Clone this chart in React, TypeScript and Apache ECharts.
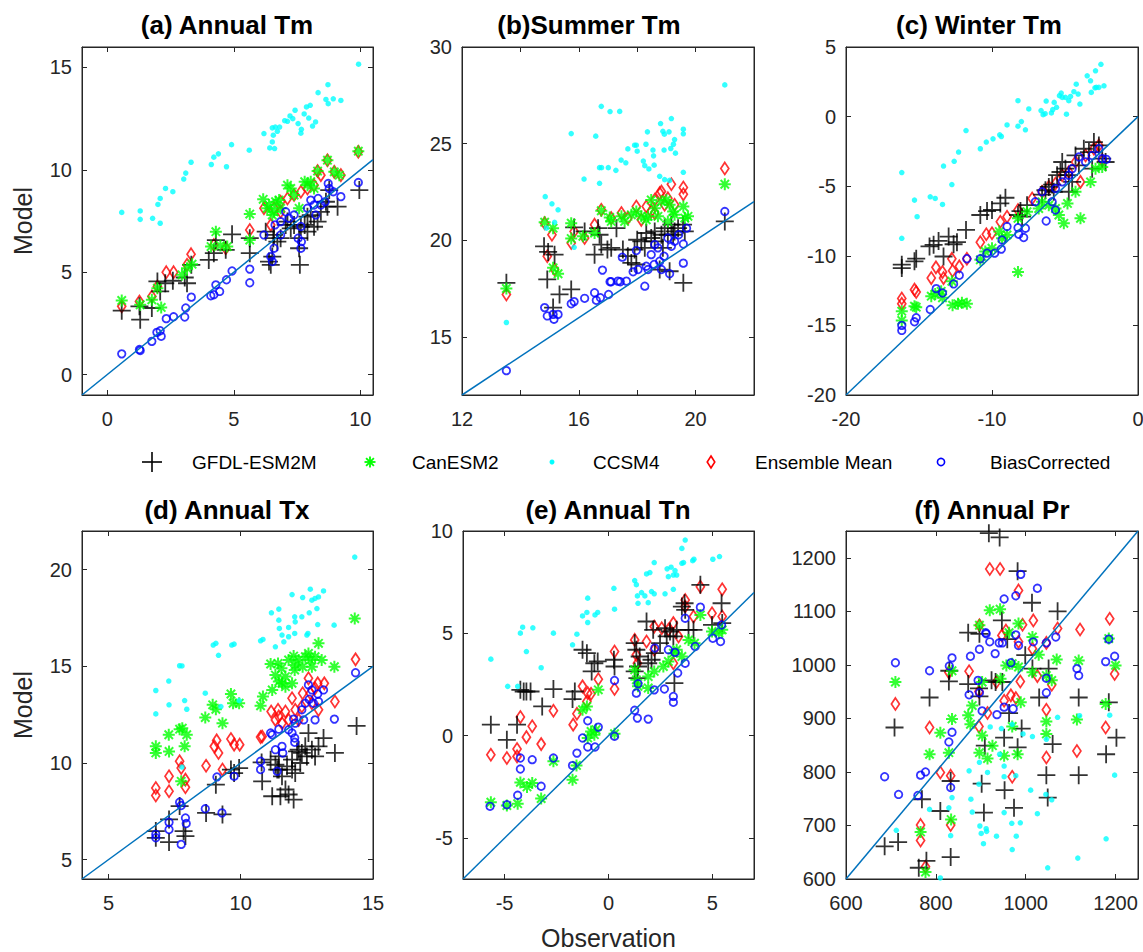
import React, { useEffect, useRef } from 'react';
import * as echarts from 'echarts';

const FONT = 'Arial, "Liberation Sans", Helvetica, sans-serif';
const AXIS_COLOR = '#262626';

const SERIES_NAMES = ['GFDL-ESM2M', 'CanESM2', 'CCSM4', 'Ensemble Mean', 'BiasCorrected'];
const PANEL_TITLES = ['(a) Annual Tm', '(b)Summer Tm', '(c) Winter Tm', '(d) Annual Tx', '(e) Annual Tn', '(f) Annual Pr'];

const X_RANGES = [[-1, 10.5], [12, 22], [-20, 0], [4, 15], [-7, 7], [600, 1250]];
const Y_RANGES = [[-1, 16], [12, 30], [-20, 5], [4, 22], [-7, 10], [600, 1250]];
const X_TICKS = [[0, 5, 10], [12, 14, 16, 18, 20, 22], [-20, -10, 0], [5, 10, 15], [-5, 0, 5], [600, 800, 1000, 1200]];
const X_LABELS = [[0, 5, 10], [12, 16, 20], [-20, -10, 0], [5, 10, 15], [-5, 0, 5], [600, 800, 1000, 1200]];
const Y_TICKS = [[0, 5, 10, 15], [15, 20, 25, 30], [-20, -15, -10, -5, 0, 5], [5, 10, 15, 20], [-5, 0, 5, 10], [600, 700, 800, 900, 1000, 1100, 1200]];

// ---------- (a) Annual Tm ----------
const A_GFDL = [[0.57,3.12],[1.27,3.33],[1.30,2.68],[1.76,3.25],[1.98,4.55],[2.09,4.06],[2.29,4.46],[2.59,4.58],[3.06,4.74],[3.15,4.46],[3.32,5.36],[4.01,5.60],[4.21,5.93],[4.29,6.57],[4.68,6.09],[4.93,6.85],[5.63,6.66],[5.63,5.93],[6.26,6.98],[6.39,5.52],[6.46,5.36],[6.52,5.76],[6.56,6.66],[6.59,6.82],[6.72,6.49],[6.85,6.66],[7.05,7.31],[7.12,7.47],[7.25,7.14],[7.38,7.31],[7.58,6.17],[7.61,5.36],[7.65,7.22],[7.80,7.31],[7.91,7.71],[8.04,7.79],[8.17,7.22],[8.31,7.47],[8.44,7.95],[8.64,8.44],[8.70,8.20],[8.77,9.01],[9.10,8.20],[9.96,9.01],[7.58,6.66],[7.91,6.98]];
const A_CAN = [[0.57,3.62],[1.30,3.41],[1.76,3.65],[2.13,3.28],[1.98,4.22],[2.95,4.87],[3.15,5.19],[3.35,5.39],[4.10,6.25],[4.29,6.98],[4.47,6.30],[4.74,6.25],[5.63,7.84],[5.63,6.57],[6.16,8.56],[6.39,8.28],[6.52,7.79],[6.65,8.44],[6.79,8.52],[6.85,8.12],[7.12,9.25],[7.25,9.09],[7.38,8.77],[7.58,8.12],[7.80,9.42],[7.91,9.25],[8.04,9.42],[8.17,9.09],[8.31,9.94],[8.70,10.47],[8.97,9.90],[9.17,9.74],[9.92,10.91],[6.59,7.95],[6.32,8.12]];
const A_CCSM = [[0.57,7.92],[1.30,7.99],[1.30,7.58],[1.79,7.63],[2.09,7.39],[2.00,8.31],[2.09,8.60],[2.30,9.09],[2.59,8.93],[3.02,9.55],[3.10,9.84],[3.31,10.37],[4.11,10.26],[4.21,10.62],[4.39,10.78],[4.71,10.15],[4.91,11.23],[5.61,10.96],[6.19,11.77],[6.42,11.07],[6.61,11.04],[6.52,11.36],[6.56,11.69],[6.52,12.05],[6.64,12.09],[6.81,12.09],[6.72,11.88],[7.01,12.40],[7.12,12.37],[7.22,12.63],[7.33,12.50],[7.42,12.91],[7.54,12.26],[7.65,11.79],[7.67,11.98],[7.78,12.73],[7.87,13.07],[7.96,12.53],[8.02,13.15],[8.11,12.14],[8.23,12.34],[8.33,13.77],[8.64,13.44],[8.72,14.16],[8.73,13.23],[8.93,13.47],[9.23,13.39],[9.93,15.16]];
const A_ENS = [[0.57,3.33],[1.27,3.57],[1.76,3.81],[1.98,4.30],[2.33,5.00],[2.62,5.00],[3.15,5.36],[3.31,5.88],[4.21,6.33],[4.68,6.17],[5.63,7.06],[6.19,8.12],[6.46,7.31],[6.85,8.44],[7.12,8.60],[7.38,8.77],[7.65,8.93],[7.91,9.09],[8.17,9.25],[8.44,9.74],[8.70,10.47],[8.97,9.90],[9.23,9.74],[9.92,10.88],[8.31,9.94],[6.85,7.95],[6.59,8.12]];
const A_BIAS = [[0.57,1.01],[1.27,1.22],[1.30,1.17],[1.76,1.62],[1.96,2.06],[2.09,2.14],[2.13,1.87],[2.33,2.73],[2.62,2.82],[3.06,2.81],[3.10,3.25],[3.32,3.78],[4.09,3.85],[4.21,3.90],[4.29,4.38],[4.44,4.06],[4.71,4.63],[4.93,5.06],[5.63,5.15],[5.63,4.48],[6.19,6.82],[6.46,5.76],[6.52,5.52],[6.59,6.17],[6.63,7.31],[6.85,6.82],[7.05,7.95],[7.18,7.63],[7.38,7.79],[7.54,6.66],[7.67,6.49],[7.65,6.17],[7.91,8.12],[8.04,8.52],[8.17,8.28],[8.24,7.79],[8.33,8.60],[8.44,8.28],[8.61,8.44],[8.73,9.33],[8.77,9.09],[8.93,8.93],[9.23,8.69],[9.92,9.38],[7.65,7.23],[6.85,7.47]];

// ---------- (b) Summer Tm ----------
const B_GFDL = [[13.52,17.80],[14.81,19.69],[14.95,19.40],[15.17,19.26],[14.92,17.98],[15.12,16.52],[15.34,17.20],[15.74,17.46],[15.84,20.67],[16.20,20.46],[16.54,19.26],[16.66,20.63],[16.71,20.29],[16.77,19.78],[16.98,19.52],[17.11,19.61],[17.29,20.63],[17.51,19.52],[17.68,19.18],[17.80,18.83],[17.97,18.75],[18.00,20.03],[18.14,19.95],[18.26,19.61],[18.31,20.38],[18.48,20.12],[18.60,20.46],[18.77,18.49],[18.83,20.29],[18.88,19.61],[18.94,20.63],[19.05,20.29],[19.11,18.40],[19.17,20.81],[19.23,20.29],[19.28,20.46],[19.40,20.63],[19.57,20.81],[19.63,20.46],[19.58,17.80],[21.00,20.98],[17.91,19.52],[18.60,19.95]];
const B_CAN = [[13.52,17.51],[14.83,20.94],[15.12,20.63],[15.12,18.58],[15.29,18.27],[15.74,20.89],[15.74,20.09],[16.14,20.21],[16.54,20.38],[16.77,21.53],[17.06,21.18],[17.11,20.98],[17.46,21.24],[17.57,20.98],[17.80,21.32],[17.97,21.49],[18.14,21.24],[18.31,21.06],[18.48,22.09],[18.60,21.66],[18.71,21.24],[18.83,22.01],[19.00,22.09],[19.11,21.84],[19.23,21.49],[19.28,21.32],[19.58,21.75],[19.63,21.15],[21.00,22.90],[19.05,20.98],[18.37,21.24],[19.74,21.24]];
const B_CCSM = [[13.52,15.75],[14.85,22.26],[15.08,21.89],[15.29,21.58],[15.17,20.93],[14.89,20.63],[15.74,25.52],[15.84,19.64],[16.18,23.17],[16.58,25.39],[16.71,22.95],[16.77,26.93],[16.71,23.76],[16.78,23.76],[17.01,23.76],[17.07,26.66],[17.27,23.62],[17.40,26.67],[17.45,24.15],[17.61,24.01],[17.68,24.73],[17.91,24.92],[17.97,24.92],[18.00,24.61],[18.21,24.10],[18.26,23.86],[18.30,24.97],[18.35,25.61],[18.40,23.69],[18.54,24.67],[18.56,24.37],[18.58,23.89],[18.77,23.31],[18.80,26.04],[18.88,25.64],[18.93,25.49],[18.94,23.14],[18.92,24.67],[19.09,25.61],[19.15,24.75],[19.17,26.30],[19.24,24.97],[19.28,25.21],[19.31,24.51],[19.11,23.10],[19.58,25.75],[19.58,25.51],[19.58,23.52],[21.00,28.04]];
const B_ENS = [[13.52,17.20],[14.83,20.89],[15.08,20.29],[14.92,19.18],[15.17,18.49],[15.74,19.86],[15.84,20.46],[16.20,20.12],[16.77,21.58],[17.11,21.15],[17.46,21.41],[17.68,21.15],[17.97,21.75],[18.14,21.06],[18.31,21.75],[18.48,21.49],[18.60,21.41],[18.77,22.44],[18.83,22.52],[19.05,22.18],[19.17,22.90],[19.28,21.84],[19.58,22.73],[19.58,22.38],[21.00,23.72],[18.94,21.84],[16.54,20.81],[18.60,22.09]];
const B_BIAS = [[13.52,13.26],[14.83,16.52],[14.92,16.09],[15.12,16.17],[15.15,15.92],[15.29,16.17],[15.74,16.72],[15.84,16.83],[16.20,17.00],[16.54,17.29],[16.60,16.90],[16.74,17.03],[16.81,18.46],[17.02,17.20],[17.07,17.86],[17.11,17.86],[17.34,17.89],[17.42,17.86],[17.63,17.89],[17.49,19.13],[17.86,18.37],[17.97,19.47],[18.03,18.49],[18.26,17.63],[18.31,18.66],[18.37,18.49],[18.58,18.75],[18.60,19.78],[18.71,19.61],[18.77,18.92],[18.83,18.49],[18.92,19.18],[19.11,18.27],[19.17,19.69],[19.28,19.95],[19.42,20.29],[19.58,19.81],[19.58,18.82],[19.69,20.63],[21.00,21.49],[18.48,19.26],[19.05,20.12]];

// ---------- (c) Winter Tm ----------
const C_GFDL = [[-16.18,-10.64],[-16.18,-10.88],[-15.31,-10.40],[-15.19,-10.21],[-14.28,-9.33],[-14.00,-9.21],[-13.66,-8.93],[-13.32,-10.05],[-12.97,-8.62],[-12.63,-9.17],[-12.40,-9.02],[-11.78,-8.14],[-10.80,-7.07],[-10.34,-6.79],[-10.00,-6.71],[-9.43,-6.24],[-9.08,-5.83],[-8.22,-7.07],[-8.05,-6.79],[-7.94,-7.19],[-7.60,-6.36],[-6.57,-5.60],[-6.34,-5.29],[-6.11,-5.05],[-5.88,-4.88],[-5.77,-5.40],[-5.54,-4.21],[-5.31,-3.98],[-5.19,-3.26],[-4.97,-3.74],[-4.74,-4.21],[-4.51,-4.69],[-4.28,-2.79],[-4.05,-3.50],[-3.71,-2.31],[-3.36,-2.55],[-3.02,-1.83],[-2.68,-2.07],[-2.45,-3.02],[-2.22,-3.26],[-4.74,-5.40],[-3.14,-3.74]];
const C_CAN = [[-16.18,-13.98],[-16.18,-14.64],[-15.31,-13.62],[-15.19,-13.69],[-14.16,-12.90],[-13.89,-12.74],[-13.48,-12.55],[-13.39,-13.02],[-12.75,-11.83],[-12.70,-13.55],[-12.33,-13.45],[-12.06,-13.38],[-11.72,-13.45],[-10.80,-10.29],[-10.46,-9.69],[-10.00,-9.45],[-9.50,-8.26],[-9.31,-8.74],[-8.97,-8.50],[-8.22,-11.17],[-8.22,-7.31],[-7.60,-6.83],[-6.80,-6.60],[-6.11,-6.36],[-5.65,-6.60],[-5.42,-7.07],[-5.08,-7.67],[-4.83,-6.24],[-3.94,-7.31],[-3.25,-4.69],[-2.91,-3.74],[-2.45,-3.62],[-4.28,-5.40],[-6.57,-6.12]];
const C_CCSM = [[-16.18,-4.02],[-16.18,-8.74],[-15.31,-6.00],[-15.13,-7.19],[-14.23,-5.76],[-13.89,-5.88],[-13.39,-6.31],[-13.32,-3.55],[-12.75,-4.88],[-12.59,-3.21],[-12.29,-2.55],[-11.78,-1.00],[-10.80,-2.31],[-10.39,-1.83],[-9.93,-1.60],[-9.47,-1.31],[-9.36,-1.43],[-8.97,-0.60],[-8.22,1.14],[-8.22,-0.69],[-7.99,-0.36],[-7.71,-0.95],[-7.48,0.55],[-6.64,0.43],[-6.50,0.14],[-6.36,0.21],[-6.29,1.12],[-5.93,0.26],[-5.84,0.50],[-5.74,1.02],[-5.58,0.67],[-5.38,1.50],[-5.26,1.69],[-5.19,1.38],[-4.97,1.38],[-4.90,0.17],[-4.74,1.14],[-4.62,1.45],[-4.39,1.79],[-4.23,2.33],[-4.10,1.62],[-3.98,0.90],[-3.48,2.93],[-3.25,2.57],[-3.20,1.74],[-2.95,2.07],[-2.91,3.29],[-2.86,2.10],[-2.68,2.10],[-2.54,3.76],[-2.33,2.21]];
const C_ENS = [[-16.18,-13.07],[-16.18,-13.45],[-15.31,-12.43],[-15.19,-12.60],[-14.16,-11.60],[-13.84,-10.83],[-13.39,-11.17],[-13.32,-11.60],[-12.75,-10.21],[-12.70,-11.07],[-12.24,-10.76],[-11.72,-10.21],[-10.80,-9.02],[-10.39,-8.45],[-10.00,-8.38],[-9.43,-7.55],[-8.97,-7.19],[-8.22,-6.71],[-7.25,-5.88],[-6.57,-5.40],[-6.11,-5.05],[-5.65,-4.81],[-5.19,-4.21],[-4.74,-3.98],[-4.28,-3.26],[-3.94,-4.69],[-3.59,-2.79],[-3.02,-2.31],[-2.68,-2.07],[-2.45,-3.14]];
const C_BIAS = [[-16.18,-15.00],[-16.18,-15.36],[-15.31,-14.74],[-15.19,-14.45],[-14.23,-13.86],[-13.82,-12.36],[-13.39,-12.67],[-12.63,-12.02],[-12.24,-11.40],[-11.72,-10.21],[-10.80,-10.21],[-10.34,-9.81],[-9.82,-9.81],[-9.36,-9.52],[-9.31,-8.86],[-8.97,-7.90],[-8.22,-7.98],[-8.17,-8.45],[-7.83,-8.69],[-7.71,-8.02],[-6.29,-7.50],[-5.88,-6.12],[-5.65,-5.17],[-5.19,-4.69],[-4.74,-4.21],[-4.51,-3.74],[-4.05,-2.90],[-3.59,-3.26],[-3.14,-2.79],[-2.68,-2.31],[-2.45,-3.02],[-2.17,-3.07],[-6.57,-5.40],[-7.03,-6.12],[-5.65,-6.71]];

// ---------- (d) Annual Tx ----------
const D_GFDL = [[6.79,6.13],[6.79,6.48],[7.29,5.91],[7.29,7.08],[7.69,7.77],[7.84,6.48],[7.91,6.22],[8.69,7.42],[9.06,8.88],[9.31,7.34],[9.63,9.66],[9.75,9.48],[9.94,9.74],[10.79,10.03],[10.81,9.05],[11.13,10.17],[11.19,8.28],[11.31,9.91],[11.38,9.66],[11.44,10.34],[11.50,8.28],[11.56,9.31],[11.69,8.63],[11.75,9.83],[11.81,8.37],[11.94,10.17],[12.00,8.11],[12.06,9.48],[12.19,10.69],[12.25,10.00],[12.31,10.52],[12.44,10.86],[12.50,10.34],[12.56,11.55],[12.69,10.69],[12.81,10.34],[12.94,10.86],[13.13,11.29],[13.56,10.52],[14.38,11.92],[11.44,9.66],[11.94,9.66],[12.13,10.60]];
const D_CAN = [[6.79,10.86],[6.79,10.52],[7.28,11.46],[7.29,10.60],[7.69,11.75],[7.79,11.80],[7.88,10.86],[7.96,11.46],[7.75,9.05],[8.66,12.35],[8.94,13.01],[9.06,12.78],[9.31,12.06],[9.63,13.57],[9.71,13.09],[9.94,13.09],[10.75,12.96],[10.84,13.44],[11.13,15.12],[11.19,13.78],[11.31,14.55],[11.41,15.15],[11.44,14.21],[11.54,14.90],[11.56,14.12],[11.69,14.47],[11.81,15.33],[11.94,14.12],[12.00,15.53],[12.06,15.07],[12.19,15.33],[12.34,14.98],[12.44,15.50],[12.56,15.67],[12.63,15.33],[12.69,14.98],[12.81,15.50],[12.94,16.19],[13.06,15.33],[13.54,14.98],[14.31,17.47],[12.04,14.81],[11.69,13.95]];
const D_CCSM = [[6.79,13.75],[6.79,12.54],[7.28,14.24],[7.29,13.01],[7.69,15.03],[7.78,15.02],[7.78,9.79],[7.88,13.23],[7.96,12.78],[8.66,13.61],[8.96,16.10],[9.06,16.19],[9.16,15.57],[9.25,12.92],[9.66,16.10],[9.75,16.15],[9.94,13.23],[10.75,16.32],[10.84,16.39],[11.16,17.77],[11.31,16.01],[11.44,17.96],[11.44,17.39],[11.46,16.96],[11.56,16.62],[11.63,16.27],[11.81,17.01],[11.81,16.53],[11.94,18.71],[12.04,17.56],[12.04,16.70],[12.06,17.30],[12.31,17.56],[12.34,18.56],[12.54,16.70],[12.59,17.77],[12.63,18.99],[12.69,18.42],[12.81,18.51],[12.88,17.99],[12.94,18.59],[12.91,17.16],[13.13,18.90],[13.53,17.13],[14.31,20.65],[12.50,16.62]];
const D_ENS = [[6.79,8.71],[6.79,8.32],[7.29,9.31],[7.29,8.54],[7.69,10.09],[7.75,9.74],[7.91,9.14],[7.91,8.75],[8.69,9.86],[9.00,10.86],[9.09,11.17],[9.16,10.52],[9.31,9.66],[9.63,11.24],[9.75,10.95],[9.96,10.95],[10.75,11.34],[10.81,11.37],[11.15,12.66],[11.31,12.23],[11.41,12.75],[11.44,12.41],[11.56,12.06],[11.69,12.66],[11.81,12.23],[11.94,13.35],[12.06,12.75],[12.19,12.23],[12.31,12.92],[12.34,13.61],[12.56,14.38],[12.63,13.61],[12.69,13.09],[12.81,13.87],[12.91,14.12],[12.94,12.75],[13.16,14.12],[13.56,13.18],[14.34,15.36]];
const D_BIAS = [[7.69,7.97],[7.75,7.80],[7.29,6.94],[7.29,6.56],[6.79,6.31],[6.79,6.13],[7.91,7.16],[7.94,6.87],[7.75,5.79],[8.66,7.63],[9.10,9.28],[9.29,7.42],[9.75,9.31],[10.75,10.09],[10.75,9.66],[11.13,11.55],[11.19,11.46],[11.31,10.69],[11.44,11.75],[11.56,10.86],[11.59,10.52],[11.81,11.72],[11.94,11.55],[12.00,12.27],[12.04,11.29],[12.04,11.07],[12.06,12.06],[12.31,12.75],[12.38,12.23],[12.44,13.09],[12.56,14.04],[12.59,13.30],[12.69,13.78],[12.75,13.09],[12.81,12.23],[12.91,13.57],[12.94,13.18],[13.13,13.78],[13.54,12.27],[14.34,14.67],[11.38,9.57]];

// ---------- (e) Annual Tn ----------
const E_GFDL = [[-5.66,0.54],[-4.89,-0.20],[-4.40,0.54],[-4.24,2.24],[-4.08,2.16],[-3.95,2.16],[-3.75,2.16],[-3.19,1.43],[-2.65,2.28],[-1.73,1.79],[-1.62,2.16],[-1.25,4.20],[-1.04,4.03],[-0.81,3.14],[-0.68,3.54],[-0.52,3.63],[0.26,3.71],[0.29,3.38],[1.26,4.52],[1.26,3.14],[1.34,4.20],[1.42,3.38],[1.50,3.87],[1.83,5.58],[1.91,3.54],[2.07,3.71],[2.15,5.17],[2.23,4.03],[2.48,4.52],[2.72,5.25],[2.80,4.85],[2.96,5.09],[3.12,4.85],[3.17,2.57],[3.28,5.17],[3.53,6.31],[3.66,6.47],[3.69,6.15],[3.85,5.17],[4.09,5.17],[4.42,7.37],[4.98,5.41],[5.44,6.47],[5.47,5.50],[1.39,2.81]];
const E_CAN = [[-5.66,-3.25],[-4.89,-3.41],[-4.37,-3.32],[-4.24,-2.28],[-3.92,-2.50],[-3.67,-2.31],[-3.24,-3.07],[-2.65,-1.25],[-1.73,-2.15],[-1.54,-1.45],[-1.25,1.27],[-1.04,1.43],[-1.00,-0.11],[-0.84,0.21],[-0.68,0.05],[-0.60,0.29],[-0.49,2.24],[0.29,0.10],[1.26,3.22],[1.34,2.73],[1.42,2.41],[1.91,2.33],[2.20,3.14],[2.64,3.38],[2.88,3.63],[3.12,4.03],[3.28,4.20],[3.53,3.87],[3.85,4.68],[4.14,4.52],[4.42,5.90],[4.98,5.09],[5.31,5.01],[5.47,5.17],[1.91,2.89]];
const E_CCSM = [[-5.66,3.74],[-4.85,2.41],[-4.37,2.41],[-4.24,5.01],[-4.13,5.30],[-3.95,4.11],[-3.64,5.27],[-3.24,3.32],[-2.65,5.01],[-1.73,4.44],[-1.52,4.96],[-1.25,5.85],[-1.04,6.02],[-1.00,6.72],[-1.00,5.53],[-0.65,5.90],[-0.52,6.02],[0.26,7.20],[0.29,6.18],[1.26,7.58],[1.34,7.38],[1.39,6.83],[1.42,6.47],[1.59,6.99],[1.75,6.83],[1.83,7.90],[1.91,6.50],[1.99,7.97],[2.07,7.04],[2.20,6.93],[2.20,8.46],[2.72,6.93],[2.82,8.15],[2.88,7.77],[3.01,8.23],[3.12,7.85],[3.12,7.15],[3.20,8.07],[3.28,7.85],[3.53,8.42],[3.53,9.15],[3.61,8.46],[3.69,9.56],[4.05,8.55],[4.11,8.62],[5.02,8.62],[5.34,8.75]];
const E_ENS = [[-5.66,-0.93],[-4.89,-1.09],[-4.40,-0.65],[-4.40,-1.01],[-4.24,0.91],[-3.95,-0.07],[-3.67,0.46],[-3.24,-0.41],[-2.65,1.22],[-1.70,0.54],[-1.52,1.07],[-1.25,2.41],[-1.04,1.67],[-1.00,2.08],[-0.84,2.05],[-0.49,2.76],[0.29,4.11],[0.29,2.28],[1.26,4.68],[1.34,3.95],[1.39,3.54],[1.83,4.60],[2.20,5.33],[2.20,4.20],[2.56,5.25],[2.88,5.17],[3.12,5.50],[3.12,3.54],[3.37,4.85],[3.69,6.63],[3.69,6.31],[4.09,5.82],[4.42,7.28],[4.98,5.98],[5.47,7.15],[5.47,5.82]];
const E_BIAS = [[-5.70,-3.45],[-4.89,-3.37],[-4.37,-2.91],[-4.24,-1.63],[-4.24,-1.09],[-3.67,-1.17],[-3.24,-2.47],[-2.65,-1.09],[-1.73,-1.46],[-1.52,-0.85],[-1.25,-0.11],[-1.00,0.73],[-1.00,-0.55],[-0.65,-0.55],[-0.49,0.42],[0.29,2.70],[0.29,-0.03],[1.26,1.24],[1.34,2.08],[1.39,0.86],[1.42,2.54],[1.91,0.81],[2.20,2.24],[2.69,2.28],[3.12,1.92],[3.12,1.63],[3.20,4.07],[3.33,3.06],[3.69,3.54],[3.69,5.74],[4.17,4.36],[4.42,6.28],[5.02,4.76],[5.39,4.60],[5.44,5.41],[2.23,4.28],[2.88,4.20]];

// ---------- (f) Annual Pr ----------
const F_GFDL = [[918,1246],[942,1238],[982,1175],[1014,1116],[1071,1100],[947,1083],[872,1060],[897,1058],[959,1048],[999,1018],[1015,993],[1051,993],[830,989],[829,969],[872,964],[896,956],[924,971],[933,968],[948,968],[897,941],[786,939],[708,883],[963,910],[991,881],[952,864],[909,849],[982,846],[1060,852],[1030,939],[1118,939],[1185,930],[1202,864],[1179,833],[1046,794],[1118,794],[833,783],[902,778],[953,766],[1049,752],[769,749],[810,727],[907,724],[974,733],[686,661],[716,669],[779,634],[833,641],[762,621]];
const F_CAN = [[920,1102],[943,1104],[897,1074],[984,1077],[1015,1052],[963,1060],[1029,1019],[1069,1010],[1118,1008],[1185,1049],[1200,999],[957,999],[970,1002],[984,996],[944,974],[1015,986],[1046,980],[1058,971],[836,989],[710,968],[903,968],[881,924],[872,906],[877,889],[836,899],[810,873],[786,833],[829,836],[897,836],[903,868],[915,825],[952,830],[982,833],[970,885],[1046,894],[1046,871],[1114,898],[1178,927],[989,930],[926,849],[766,688],[834,711],[777,613]];
const F_CCSM = [[921,884],[946,881],[970,889],[994,871],[1015,866],[1046,861],[1071,902],[1120,905],[1187,906],[1198,794],[874,802],[897,818],[942,833],[952,811],[952,791],[896,777],[978,793],[915,799],[712,691],[786,730],[829,733],[833,681],[836,752],[878,749],[881,725],[898,699],[901,685],[906,666],[912,694],[913,689],[935,680],[952,724],[969,704],[970,655],[979,680],[988,705],[1011,766],[1026,722],[1045,758],[1049,621],[1058,748],[1116,639],[1179,675],[810,602]];
const F_ENS = [[920,1179],[943,1179],[984,1139],[1017,1083],[1121,1066],[1187,1086],[1071,1068],[897,1074],[947,1055],[956,1064],[993,1075],[984,1043],[1015,1030],[1046,1041],[1026,979],[1058,963],[988,969],[1198,983],[874,988],[829,986],[935,968],[710,927],[786,883],[896,885],[952,933],[967,943],[978,938],[896,950],[915,910],[1046,916],[1046,827],[1114,839],[1178,883],[970,791],[833,793],[810,799],[766,701],[766,672],[833,701],[777,623]];
const F_BIAS = [[989,1169],[1026,1143],[952,1123],[978,1129],[911,1060],[920,1043],[912,1058],[897,1029],[877,1016],[836,1013],[830,998],[932,1021],[941,1041],[948,1041],[967,1004],[978,1056],[984,1036],[1017,1043],[1046,1041],[1067,1052],[710,1004],[786,989],[874,944],[894,971],[897,948],[903,914],[936,907],[952,921],[972,918],[1046,948],[1046,975],[1114,993],[1118,980],[1178,1006],[1198,1016],[1185,1048],[836,874],[829,856],[686,791],[766,794],[777,800],[717,758],[760,756],[833,771]];

const PANELS = [
  { gfdl: A_GFDL, can: A_CAN, ccsm: A_CCSM, ens: A_ENS, bias: A_BIAS },
  { gfdl: B_GFDL, can: B_CAN, ccsm: B_CCSM, ens: B_ENS, bias: B_BIAS },
  { gfdl: C_GFDL, can: C_CAN, ccsm: C_CCSM, ens: C_ENS, bias: C_BIAS },
  { gfdl: D_GFDL, can: D_CAN, ccsm: D_CCSM, ens: D_ENS, bias: D_BIAS },
  { gfdl: E_GFDL, can: E_CAN, ccsm: E_CCSM, ens: E_ENS, bias: E_BIAS },
  { gfdl: F_GFDL, can: F_CAN, ccsm: F_CCSM, ens: F_ENS, bias: F_BIAS },
];

// layout (pixels): left, top, width, height
const GRID_BOXES = [
  [82, 47, 291, 348],
  [462, 47, 292, 348],
  [846, 47, 292, 348],
  [82, 531, 291, 348],
  [463, 531, 291, 348],
  [846, 531, 292, 348],
];
const TITLE_POS = [[227, 25], [589, 25], [979, 25], [227, 510], [608, 510], [992, 510]];
const LEGEND_MARK_X = [152, 370, 552, 711, 941];
const LEGEND_TEXT_X = [192, 412, 593, 755, 990];
const LEGEND_Y = 462;

const PLUS = 'path://M8,0L8,16M0,8L16,8';
const STAR = 'path://M10,0L10,20M0,10L20,10M3,3L17,17M3,17L17,3';

const STYLES: Record<string, any> = {
  'GFDL-ESM2M': { symbol: PLUS, symbolSize: 18, itemStyle: { color: '#000000', borderColor: '#000000', borderWidth: 1.8 } },
  'CanESM2': { symbol: STAR, symbolSize: 12, itemStyle: { color: '#00FF00', borderColor: '#00FF00', borderWidth: 2 } },
  'CCSM4': { symbol: 'circle', symbolSize: 5.5, itemStyle: { color: '#00FFFF', borderWidth: 0 } },
  'Ensemble Mean': { symbol: 'diamond', symbolSize: [8, 12], itemStyle: { color: 'rgba(255,255,255,0)', borderColor: '#FF0000', borderWidth: 1.8 } },
  'BiasCorrected': { symbol: 'circle', symbolSize: 7.5, itemStyle: { color: 'rgba(255,255,255,0)', borderColor: '#0000FF', borderWidth: 1.8 } },
};

function legendMarker(name: string, x: number, y: number): any[] {
  if (name === 'GFDL-ESM2M') {
    const s = { stroke: '#000000', lineWidth: 1.6 };
    return [
      { type: 'line', shape: { x1: x - 10, y1: y, x2: x + 10, y2: y }, style: s },
      { type: 'line', shape: { x1: x, y1: y - 10, x2: x, y2: y + 10 }, style: s },
    ];
  }
  if (name === 'CanESM2') {
    const s = { stroke: '#00FF00', lineWidth: 1.8 };
    const r = 5.5, d = 3.9;
    return [
      { type: 'line', shape: { x1: x - r, y1: y, x2: x + r, y2: y }, style: s },
      { type: 'line', shape: { x1: x, y1: y - r, x2: x, y2: y + r }, style: s },
      { type: 'line', shape: { x1: x - d, y1: y - d, x2: x + d, y2: y + d }, style: s },
      { type: 'line', shape: { x1: x - d, y1: y + d, x2: x + d, y2: y - d }, style: s },
    ];
  }
  if (name === 'CCSM4') {
    return [{ type: 'circle', shape: { cx: x, cy: y, r: 2.5 }, style: { fill: '#00FFFF' } }];
  }
  if (name === 'Ensemble Mean') {
    return [{ type: 'polygon', shape: { points: [[x, y - 6], [x + 3.8, y], [x, y + 6], [x - 3.8, y]] }, style: { fill: 'none', stroke: '#FF0000', lineWidth: 1.6 } }];
  }
  return [{ type: 'circle', shape: { cx: x, cy: y, r: 3.6 }, style: { fill: 'none', stroke: '#0000FF', lineWidth: 1.6 } }];
}

function buildOption() {
  const grid: any[] = [];
  const xAxis: any[] = [];
  const yAxis: any[] = [];
  const series: any[] = [];
  const graphic: any[] = [];
  const fmt = (v: number) => String(v);
  const labelStyle = { fontSize: 20, color: AXIS_COLOR, fontFamily: FONT, showMinLabel: true, showMaxLabel: true, formatter: fmt };
  const tickBase = { inside: true, length: 5, lineStyle: { color: AXIS_COLOR, width: 1 } };
  const lineBase = { show: true, onZero: false, lineStyle: { color: AXIS_COLOR, width: 1 } };

  GRID_BOXES.forEach(([l, t, w, h]) => {
    grid.push({ left: l, top: t, width: w, height: h, show: true, borderColor: AXIS_COLOR, borderWidth: 1, backgroundColor: '#ffffff', containLabel: false, outerBoundsMode: 'none' });
  });

  for (let i = 0; i < 6; i++) {
    xAxis.push({
      type: 'value', gridIndex: i, position: 'bottom', min: X_RANGES[i][0], max: X_RANGES[i][1],
      axisLine: lineBase, splitLine: { show: false },
      axisTick: { ...tickBase, customValues: X_TICKS[i] },
      axisLabel: { ...labelStyle, margin: 14, customValues: X_LABELS[i] },
      name: i === 4 ? 'Observation' : '', nameLocation: 'middle', nameGap: 46,
      nameTextStyle: { fontSize: 25, color: AXIS_COLOR, fontFamily: FONT },
    });
    yAxis.push({
      type: 'value', gridIndex: i, position: 'left', min: Y_RANGES[i][0], max: Y_RANGES[i][1],
      axisLine: lineBase, splitLine: { show: false },
      axisTick: { ...tickBase, customValues: Y_TICKS[i] },
      axisLabel: { ...labelStyle, margin: 10, customValues: Y_TICKS[i] },
      name: i === 0 || i === 3 ? 'Model' : '', nameLocation: 'middle', nameGap: 47,
      nameTextStyle: { fontSize: 25, color: AXIS_COLOR, fontFamily: FONT },
    });
  }
  for (let i = 0; i < 6; i++) {
    xAxis.push({
      type: 'value', gridIndex: i, position: 'top', min: X_RANGES[i][0], max: X_RANGES[i][1],
      axisLine: lineBase, splitLine: { show: false }, axisLabel: { show: false },
      axisTick: { ...tickBase, customValues: X_TICKS[i] },
    });
    yAxis.push({
      type: 'value', gridIndex: i, position: 'right', min: Y_RANGES[i][0], max: Y_RANGES[i][1],
      axisLine: lineBase, splitLine: { show: false }, axisLabel: { show: false },
      axisTick: { ...tickBase, customValues: Y_TICKS[i] },
    });
  }

  const order: [string, string][] = [
    ['Ensemble Mean', 'ens'],
    ['GFDL-ESM2M', 'gfdl'],
    ['CanESM2', 'can'],
    ['CCSM4', 'ccsm'],
    ['BiasCorrected', 'bias'],
  ];
  PANELS.forEach((p: any, i) => {
    order.forEach(([name, key], k) => {
      const st = STYLES[name];
      series.push({
        type: 'scatter', name, xAxisIndex: i, yAxisIndex: i, data: p[key],
        symbol: st.symbol, symbolSize: st.symbolSize, itemStyle: st.itemStyle,
        emphasis: { disabled: true }, z: 2 + k,
      });
    });
    const lo = Math.max(X_RANGES[i][0], Y_RANGES[i][0]);
    const hi = Math.min(X_RANGES[i][1], Y_RANGES[i][1]);
    series.push({
      type: 'line', xAxisIndex: i, yAxisIndex: i, data: [[lo, lo], [hi, hi]],
      symbol: 'none', showSymbol: false, silent: true, z: 10,
      lineStyle: { color: '#0072BD', width: 1.5 },
    });
  });

  PANEL_TITLES.forEach((t, i) => {
    graphic.push({
      type: 'text', x: TITLE_POS[i][0], y: TITLE_POS[i][1],
      style: {
        text: t, fontSize: 26, fontWeight: 'bold', fontFamily: FONT, fill: '#000000',
        align: 'center', verticalAlign: 'middle', textAlign: 'center', textVerticalAlign: 'middle',
      },
    });
  });

  SERIES_NAMES.forEach((name, i) => {
    legendMarker(name, LEGEND_MARK_X[i], LEGEND_Y).forEach((el) => graphic.push(el));
    graphic.push({
      type: 'text', x: LEGEND_TEXT_X[i], y: LEGEND_Y,
      style: {
        text: name, fontSize: 19, fontFamily: FONT, fill: '#000000',
        align: 'left', verticalAlign: 'middle', textAlign: 'left', textVerticalAlign: 'middle',
      },
    });
  });

  return {
    animation: false,
    backgroundColor: '#ffffff',
    grid, xAxis, yAxis, series, graphic,
  };
}

export default function App() {
  const ref = useRef<HTMLDivElement>(null);
  useEffect(() => {
    if (!ref.current) return;
    const chart = echarts.init(ref.current, undefined, { renderer: 'svg' });
    chart.setOption(buildOption() as any);
    return () => chart.dispose();
  }, []);
  return <div ref={ref} style={{ position: 'absolute', left: 0, top: 0, width: 1143, height: 952, background: '#fff' }} />;
}
